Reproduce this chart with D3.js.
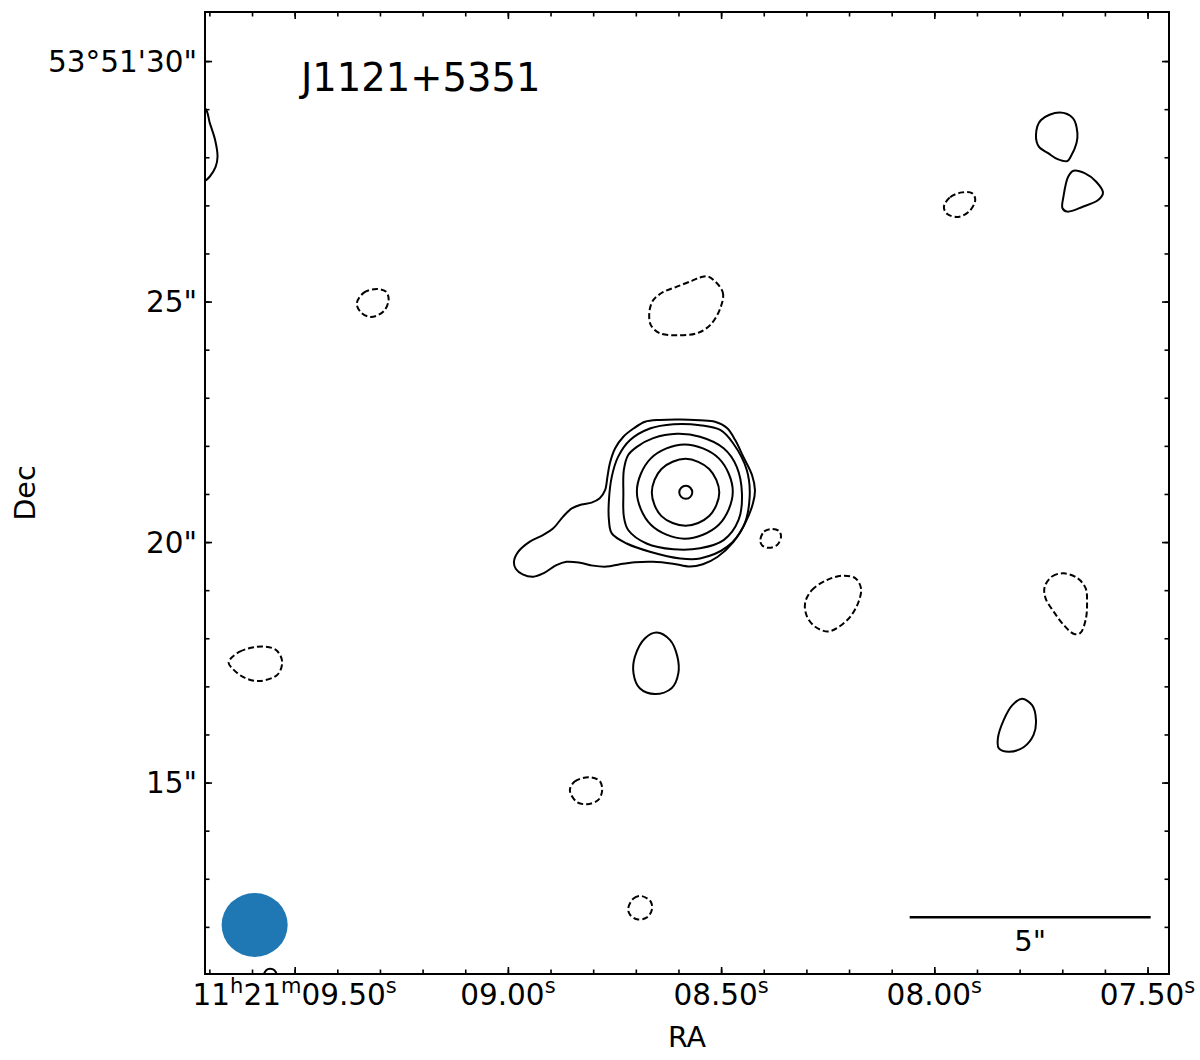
<!DOCTYPE html>
<meta charset="utf-8">
<style>
body {
  margin: 0;
  background: #fff;
}
svg {
  font-family: "DejaVu Sans", sans-serif;
}
.contour {
  fill: none;
  stroke: black;
  stroke-width: 2;
}
.neg {
  stroke-dasharray: 6,3;
}
.tick line {
  stroke: black;
  stroke-width: 1.6;
}
</style>
<body>
<script src="https://d3js.org/d3.v7.min.js"></script>
<script>

var width = 1200,
    height = 1060;

// contour points are offsets in arcsec from the source (east +, north +)
var raCenter = 8.5845,     // s  (11h21m)
    decCenter = 21.04,     // "  (53°51')
    xOffsetRange = [9.96, -10.04],
    yOffsetRange = [-10.02, 9.98];

var title = "J1121+5351";

var raMajor = [9.50, 9.00, 8.50, 8.00, 7.50];
var raLabels = ["11h21m09.50s", "09.00s", "08.50s", "08.00s", "07.50s"];
var raMinor = d3.range(7.5, 9.71, 0.1);

var decMajor = [30, 25, 20, 15];
var decLabels = ["53°51'30\"", "25\"", "20\"", "15\""];
var decMinor = d3.range(12, 31, 1);

// beam (arcsec) and its offset position
var beamSize = [1.37, 1.33];
var beamPos = [8.93, -9.00];

// scale bar
var barLength = 5;
var barLabel = "5\"";
var barPos = [-9.66, -8.84];   // right end

// positive contours (solid)
var coreContours = [
  [[0.12,-0.01],[0.08,0.09],[-0.02,0.13],[-0.11,0.09],[-0.15,-0.01],[-0.11,-0.10],[-0.02,-0.14],[0.08,-0.10]],
  [[0.69,-0.01],[0.49,0.48],[-0.01,0.69],[-0.50,0.48],[-0.71,-0.01],[-0.50,-0.50],[-0.01,-0.70],[0.49,-0.50]],
  [[1.00,0.01],[0.71,0.70],[0.01,0.99],[-0.70,0.70],[-0.99,0.01],[-0.70,-0.68],[0.01,-0.97],[0.71,-0.68]],
  [[1.28,-0.03],[1.27,0.46],[1.18,0.77],[1.00,0.94],[0.66,1.12],[0.17,1.21],[-0.31,1.15],[-0.80,0.91],[-1.07,0.53],
   [-1.18,-0.03],[-1.11,-0.58],[-0.80,-1.00],[-0.31,-1.17],[0.24,-1.19],[0.80,-1.07],[1.18,-0.79],[1.27,-0.51]],
  [[1.58,-0.17],[1.58,-0.58],[1.52,-0.86],[1.21,-1.07],[0.73,-1.24],[0.10,-1.38],[-0.31,-1.38],[-0.87,-1.14],
   [-1.21,-0.72],[-1.34,-0.10],[-1.28,0.46],[-1.00,1.01],[-0.73,1.29],[-0.31,1.39],[0.24,1.41],[0.73,1.32],
   [1.14,1.08],[1.39,0.73],[1.52,0.32]],
  [[3.55,-1.45],[3.46,-1.24],[3.22,-1.03],[2.94,-0.89],[2.74,-0.76],[2.53,-0.51],[2.35,-0.34],[2.15,-0.26],
   [1.94,-0.22],[1.77,-0.13],[1.66,0.04],[1.61,0.32],[1.56,0.60],[1.45,0.91],[1.28,1.15],[1.07,1.32],[0.83,1.46],
   [0.52,1.50],[0.10,1.51],[-0.31,1.49],[-0.62,1.46],[-0.87,1.33],[-1.04,1.08],[-1.21,0.73],[-1.39,0.35],
   [-1.45,0.04],[-1.41,-0.23],[-1.25,-0.64],[-1.00,-1.04],[-0.67,-1.35],[-0.37,-1.50],[-0.10,-1.55],[0.25,-1.49],
   [0.67,-1.45],[1.04,-1.46],[1.35,-1.50],[1.63,-1.55],[1.91,-1.53],[2.18,-1.47],[2.46,-1.45],[2.67,-1.52],
   [2.94,-1.69],[3.15,-1.76],[3.37,-1.71],[3.51,-1.60]]
];

var posIslands = [
  [[10.28,8.05],[9.96,7.98],[9.86,7.67],[9.75,7.32],[9.70,6.97],[9.74,6.76],[9.86,6.56],[9.96,6.47],[10.28,6.38]],
  [[-7.77,7.89],[-8.05,7.77],[-8.14,7.46],[-8.12,7.25],[-8.00,6.97],[-7.93,6.88],[-7.73,6.92],[-7.54,7.04],[-7.34,7.18],[-7.28,7.42],[-7.38,7.73]],
  [[-8.06,6.68],[-8.29,6.63],[-8.53,6.45],[-8.67,6.22],[-8.57,6.07],[-8.25,5.93],[-7.93,5.83],[-7.83,5.90],[-7.85,6.14],[-7.95,6.56]],
  [[0.59,-2.92],[0.31,-3.08],[0.16,-3.42],[0.14,-3.77],[0.28,-4.08],[0.62,-4.20],[0.94,-4.08],[1.07,-3.77],[1.04,-3.42],[0.83,-3.04]],
  [[-6.99,-4.30],[-7.20,-4.43],[-7.28,-4.74],[-7.23,-5.05],[-7.03,-5.30],[-6.72,-5.40],[-6.51,-5.33],[-6.49,-5.12],[-6.61,-4.74],[-6.79,-4.43]],
  [[8.73,-10.03],[8.69,-9.94],[8.61,-9.91],[8.52,-9.94],[8.48,-10.03],[8.52,-10.12],[8.61,-10.16],[8.69,-10.12]]
];

// negative contours (dashed)
var negIslands = [
  [[6.81,3.92],[6.67,4.14],[6.40,4.22],[6.21,4.17],[6.15,4.01],[6.25,3.76],[6.52,3.64],[6.73,3.74]],
  [[-0.48,4.48],[-0.78,4.16],[-0.73,3.82],[-0.52,3.47],[-0.24,3.30],[0.17,3.26],[0.52,3.30],[0.71,3.47],[0.74,3.75],[0.66,3.99],[0.45,4.16],[0.17,4.27],[-0.14,4.39],[-0.31,4.46]],
  [[-5.37,5.93],[-5.50,6.13],[-5.75,6.23],[-5.96,6.21],[-6.02,6.07],[-5.90,5.84],[-5.67,5.72],[-5.44,5.78]],
  [[-1.56,-1.01],[-1.64,-0.82],[-1.80,-0.77],[-1.95,-0.81],[-1.99,-0.93],[-1.91,-1.10],[-1.73,-1.16],[-1.60,-1.11]],
  [[-2.49,-2.31],[-2.63,-2.04],[-2.94,-1.83],[-3.26,-1.74],[-3.53,-1.79],[-3.65,-2.00],[-3.60,-2.28],[-3.43,-2.59],[-3.18,-2.81],[-2.96,-2.90],[-2.70,-2.80],[-2.53,-2.59]],
  [[-7.46,-1.97],[-7.62,-1.75],[-7.86,-1.69],[-8.14,-1.79],[-8.31,-2.00],[-8.34,-2.31],[-8.31,-2.66],[-8.20,-2.93],[-8.07,-2.95],[-7.86,-2.77],[-7.65,-2.49],[-7.48,-2.21]],
  [[9.47,-3.54],[9.24,-3.32],[8.76,-3.21],[8.48,-3.29],[8.36,-3.52],[8.45,-3.79],[8.83,-3.93],[9.14,-3.86],[9.38,-3.68]],
  [[2.39,-6.20],[2.29,-6.02],[2.01,-5.93],[1.77,-6.01],[1.72,-6.20],[1.80,-6.40],[2.04,-6.49],[2.25,-6.44]],
  [[1.18,-8.66],[1.07,-8.45],[0.90,-8.40],[0.71,-8.52],[0.69,-8.69],[0.80,-8.85],[1.00,-8.88],[1.14,-8.79]]
];

var x0 = 205, x1 = 1169, y0 = 12, y1 = 974;

var cosDec = Math.cos((53 + 51 / 60 + decCenter / 3600) * Math.PI / 180);
var sPerArcsec = 1 / (15 * cosDec);

// offset scales
var x = d3.scaleLinear().domain(xOffsetRange).range([x0, x1]);
var y = d3.scaleLinear().domain(yOffsetRange).range([y1, y0]);

// coordinate scales for the axes
var xRA = d3.scaleLinear()
    .domain(xOffsetRange.map(function(o) { return raCenter + o * sPerArcsec; }))
    .range([x0, x1]);
var yDec = d3.scaleLinear()
    .domain(yOffsetRange.map(function(o) { return decCenter + o; }))
    .range([y1, y0]);

var svg = d3.select("body").append("svg")
    .attr("width", width)
    .attr("height", height);

svg.append("defs").append("clipPath")
    .attr("id", "plotclip")
  .append("rect")
    .attr("x", x0).attr("y", y0)
    .attr("width", x1 - x0).attr("height", y1 - y0);

var plot = svg.append("g").attr("clip-path", "url(#plotclip)");

var line = d3.line()
    .x(function(d) { return x(d[0]); })
    .y(function(d) { return y(d[1]); })
    .curve(d3.curveCatmullRomClosed.alpha(0.5));

plot.selectAll(".pos")
    .data(coreContours.concat(posIslands))
  .enter().append("path")
    .attr("class", "contour pos")
    .attr("d", line);

plot.selectAll(".neg")
    .data(negIslands)
  .enter().append("path")
    .attr("class", "contour neg")
    .attr("d", line);

// beam
plot.append("ellipse")
    .attr("cx", x(beamPos[0]))
    .attr("cy", y(beamPos[1]))
    .attr("rx", Math.abs(x(beamSize[0] / 2) - x(0)))
    .attr("ry", Math.abs(y(beamSize[1] / 2) - y(0)))
    .style("fill", "#1f77b4");

// scale bar
svg.append("line")
    .attr("x1", x(barPos[0] + barLength))
    .attr("x2", x(barPos[0]))
    .attr("y1", y(barPos[1]))
    .attr("y2", y(barPos[1]))
    .style("stroke", "black")
    .style("stroke-width", 2.7);

svg.append("text")
    .attr("x", x(barPos[0] + barLength / 2))
    .attr("y", y(barPos[1]) + 34)
    .attr("text-anchor", "middle")
    .style("font-size", "29px")
    .text(barLabel);

// ticks (inward, all four sides)
function ticks(axis, vals, size, tx, ty) {
  svg.append("g")
      .attr("transform", "translate(" + tx + "," + ty + ")")
      .call(axis.tickValues(vals).tickSizeInner(-size).tickSizeOuter(0).tickFormat(""))
      .call(function(g) { g.select(".domain").remove(); });
}

ticks(d3.axisBottom(xRA), raMajor, 7, 0, y1);
ticks(d3.axisBottom(xRA), raMinor, 4.5, 0, y1);
ticks(d3.axisTop(xRA), raMajor, 7, 0, y0);
ticks(d3.axisTop(xRA), raMinor, 4.5, 0, y0);
ticks(d3.axisLeft(yDec), decMajor, 7, x0, 0);
ticks(d3.axisLeft(yDec), decMinor, 4.5, x0, 0);
ticks(d3.axisRight(yDec), decMajor, 7, x1, 0);
ticks(d3.axisRight(yDec), decMinor, 4.5, x1, 0);

// frame
svg.append("rect")
    .attr("x", x0).attr("y", y0)
    .attr("width", x1 - x0).attr("height", y1 - y0)
    .style("fill", "none")
    .style("stroke", "black")
    .style("stroke-width", 2);

// RA labels with superscript units
raMajor.forEach(function(v, i) {
  var t = svg.append("text")
      .attr("x", xRA(v))
      .attr("y", y1 + 31)
      .attr("text-anchor", "middle")
      .style("font-size", "29.5px");
  var re = /([\d.]+)([hms])/g, m, raised = false;
  while ((m = re.exec(raLabels[i])) !== null) {
    t.append("tspan").attr("dy", raised ? 12 : 0).text(m[1]);
    t.append("tspan").attr("dy", -12).style("font-size", "21px").text(m[2]);
    raised = true;
  }
});

// Dec labels
svg.selectAll(".declabel")
    .data(decMajor)
  .enter().append("text")
    .attr("class", "declabel")
    .attr("x", x0 - 8)
    .attr("y", function(d) { return yDec(d); })
    .attr("dy", "0.36em")
    .attr("text-anchor", "end")
    .style("font-size", "29.5px")
    .text(function(d, i) { return decLabels[i]; });

// axis titles
svg.append("text")
    .attr("x", (x0 + x1) / 2)
    .attr("y", 1047)
    .attr("text-anchor", "middle")
    .style("font-size", "28.5px")
    .text("RA");

svg.append("text")
    .attr("transform", "translate(35," + (y0 + y1) / 2 + ")rotate(-90)")
    .attr("text-anchor", "middle")
    .style("font-size", "28.5px")
    .text("Dec");

svg.append("text")
    .attr("x", x0 + 96)
    .attr("y", y0 + 79)
    .style("font-size", "38.5px")
    .text(title);

</script>
